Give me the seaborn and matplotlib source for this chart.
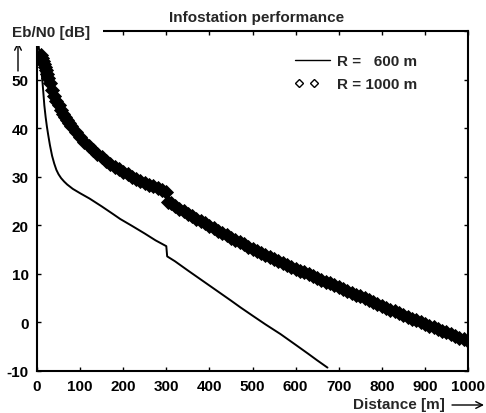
import numpy as np
import matplotlib
matplotlib.use("Agg")
import matplotlib.pyplot as plt
import seaborn as sns
from matplotlib.lines import Line2D
from matplotlib.patches import Rectangle
from matplotlib.legend_handler import HandlerLine2D

# ---------------- data ----------------
dist_600 = [3, 5, 7, 9, 11, 13, 15, 17, 20, 23, 26, 30, 35, 40, 45, 50, 56, 63, 70, 83,
            100, 122, 150, 175, 193, 220, 250, 275, 300, 302, 320, 350, 400, 450, 472,
            500, 530, 565, 600, 630, 650, 674]
ebn0_600 = [57.5, 56.0, 54.5, 53.0, 51.2, 49.2, 47.0, 44.7, 42.3, 40.3, 38.6, 36.5, 34.3,
            32.7, 31.4, 30.5, 29.7, 29.0, 28.4, 27.5, 26.6, 25.5, 23.9, 22.4, 21.3, 19.9,
            18.3, 16.9, 15.7, 13.6, 12.6, 10.7, 7.6, 4.5, 3.1, 1.4, -0.4, -2.4, -4.6,
            -6.5, -7.8, -9.3]

dist_1000_near = [10, 12, 14, 16, 18, 20, 23, 26, 30, 35, 40, 45, 50, 55, 60, 65, 70, 75,
                  80, 90, 100, 110, 120, 130, 140, 150, 160, 170, 180, 190, 200, 210,
                  220, 230, 240, 250, 260, 270, 280, 290, 300]
ebn0_1000_near = [55.0, 54.4, 53.8, 53.2, 52.6, 52.0, 51.1, 50.3, 49.2, 47.9, 46.7, 45.6,
                  44.7, 43.8, 43.0, 42.3, 41.6, 41.0, 40.4, 39.3, 38.2, 37.2, 36.3, 35.5,
                  34.7, 34.0, 33.3, 32.7, 32.1, 31.5, 31.0, 30.5, 30.0, 29.6, 29.2, 28.7,
                  28.3, 28.0, 27.6, 27.2, 26.9]

dist_1000_far = [305, 310, 320, 330, 340, 350, 360, 370, 380, 390, 400, 410, 420, 430, 440,
                 450, 460, 470, 480, 490, 500, 510, 520, 530, 540, 550, 560, 570, 580, 590,
                 600, 610, 620, 630, 640, 650, 660, 670, 680, 690, 700, 710, 720, 730, 740,
                 750, 760, 770, 780, 790, 800, 810, 820, 830, 840, 850, 860, 870, 880, 890,
                 900, 910, 920, 930, 940, 950, 960, 970, 980, 990, 1000]
ebn0_1000_far = [24.75, 24.50, 23.97, 23.44, 22.92, 22.40, 21.89, 21.38, 20.87, 20.37,
                 19.86, 19.37, 18.88, 18.40, 17.91, 17.43, 16.97, 16.51, 16.05, 15.60,
                 15.15, 14.73, 14.31, 13.89, 13.48, 13.06, 12.66, 12.27, 11.87, 11.48,
                 11.08, 10.69, 10.31, 9.92, 9.54, 9.15, 8.77, 8.40, 8.02, 7.65, 7.27,
                 6.92, 6.53, 6.13, 5.74, 5.34, 4.95, 4.57, 4.18, 3.80, 3.42, 3.04, 2.66,
                 2.28, 1.91, 1.54, 1.17, 0.80, 0.44, 0.07, -0.29, -0.65, -1.00, -1.36,
                 -1.71, -2.07, -2.41, -2.76, -3.11, -3.45, -3.79]

x_ticks = [0, 100, 200, 300, 400, 500, 600, 700, 800, 900, 1000]
y_ticks = [-10, 0, 10, 20, 30, 40, 50, 60]
y_tick_labels = ["-10", "0", "10", "20", "30", "40", "50", ""]
label_600 = "R =   600 m"
label_1000 = "R = 1000 m"
title = "Infostation performance"
ylabel = "Eb/N0 [dB]"
xlabel = "Distance [m]"

# ---------------- style ----------------
sns.set_theme(style="white")
plt.rcParams["font.family"] = ["Liberation Sans", "DejaVu Sans"]
plt.rcParams["font.weight"] = "bold"
FS = 11

W, H, DPI = 486, 414, 100
fig = plt.figure(figsize=(W / DPI, H / DPI), dpi=DPI)
ax = fig.add_axes([37 / W, 1 - 372 / H, (468 - 37) / W, (372 - 32) / H])

sns.lineplot(x=dist_600, y=ebn0_600, ax=ax, color="black", linewidth=1.4,
             sort=False, estimator=None)
dist_1000 = dist_1000_near + dist_1000_far
ebn0_1000 = ebn0_1000_near + ebn0_1000_far
sns.lineplot(x=dist_1000, y=ebn0_1000, ax=ax, color="black", linestyle="",
             marker="D", markersize=7.6, markerfacecolor="black",
             markeredgecolor="black", markeredgewidth=0.6, sort=False,
             estimator=None)
band = ax.lines[-1]
band.set_markersize(7.6)
band.set_markeredgewidth(0.6)
band.set_markerfacecolor("black")
band.set_markeredgecolor("black")

ax.set_xlim(0, 1000)
ax.set_ylim(-10, 60)
ax.set_xticks(x_ticks)
ax.set_yticks(y_ticks, labels=y_tick_labels)
ax.set_xlabel("")
ax.set_ylabel("")
for s in ax.spines.values():
    s.set_linewidth(1.5)
    s.set_color("black")
ax.tick_params(axis="both", which="both", direction="in", length=3, width=1,
               top=True, right=True, bottom=True, left=True, colors="black",
               labelsize=FS)
ax.tick_params(axis="x", pad=6)
ax.tick_params(axis="y", pad=6)
for lab in ax.get_xticklabels() + ax.get_yticklabels():
    lab.set_fontweight("bold")

ax.set_title(title, fontsize=FS, fontweight="bold", pad=7, x=0.51)

# legend
class PairHandler(HandlerLine2D):
    def get_xdata(self, legend, xdescent, ydescent, width, height, fontsize):
        xm = np.array([-xdescent + 0.11 * width, -xdescent + 0.54 * width])
        return xm, xm

h_line = Line2D([], [], color="black", linewidth=1.0)
h_diam = Line2D([], [], color="black", linestyle="", marker="D", markersize=4.3,
                markerfacecolor="none", markeredgecolor="black", markeredgewidth=1.0)
leg = ax.legend([h_line, h_diam], [label_600, label_1000], loc="upper left",
                bbox_to_anchor=((295 - 37) / 431, (372 - 55) / 340),
                frameon=False, borderaxespad=0, borderpad=0, numpoints=2,
                handlelength=2.3, handletextpad=0.45, labelspacing=0.58,
                prop={"weight": "bold", "size": FS},
                handler_map={h_line: HandlerLine2D(marker_pad=0),
                             h_diam: PairHandler()})

# y label with white box hiding the top spine part
fig.add_artist(Rectangle((6 / W, 1 - 47 / H), 97 / W, 27 / H, transform=fig.transFigure,
                         facecolor="white", edgecolor="none", zorder=5))
fig.text(12 / W, 1 - 33 / H, ylabel, ha="left", va="center", fontsize=FS,
         fontweight="bold", zorder=6)
ax.annotate("", xy=(18, H - 43), xytext=(18, H - 72),
            xycoords="figure pixels", textcoords="figure pixels",
            arrowprops=dict(arrowstyle="->", lw=1.0, color="black",
                            shrinkA=0, shrinkB=0), annotation_clip=False)

fig.text(445 / W, 1 - 405 / H, xlabel, ha="right", va="center", fontsize=FS,
         fontweight="bold")
ax.annotate("", xy=(484, H - 406), xytext=(452, H - 406),
            xycoords="figure pixels", textcoords="figure pixels",
            arrowprops=dict(arrowstyle="->", lw=1.0, color="black",
                            shrinkA=0, shrinkB=0), annotation_clip=False)

fig.savefig("out.png", dpi=DPI)
